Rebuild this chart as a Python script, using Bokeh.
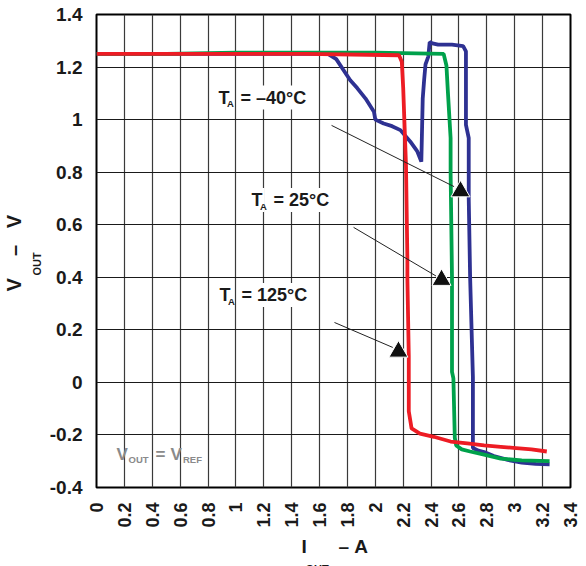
import math
from bokeh.plotting import figure
from bokeh.models import Label, FixedTicker, Title
from bokeh.embed import file_html
from bokeh.resources import INLINE

# ---------------- data ----------------
x_ticks = [0, 0.2, 0.4, 0.6, 0.8, 1.0, 1.2, 1.4, 1.6, 1.8, 2.0, 2.2, 2.4, 2.6, 2.8, 3.0, 3.2, 3.4]
x_tick_labels = ["0", "0.2", "0.4", "0.6", "0.8", "1", "1.2", "1.4", "1.6", "1.8", "2",
                 "2.2", "2.4", "2.6", "2.8", "3", "3.2", "3.4"]
y_ticks = [-0.4, -0.2, 0, 0.2, 0.4, 0.6, 0.8, 1.0, 1.2, 1.4]
y_tick_labels = ["-0.4", "-0.2", "0", "0.2", "0.4", "0.6", "0.8", "1", "1.2", "1.4"]

# T_A = -40 C (blue)
cold_i = [0.0, 0.5, 1.0, 1.66, 1.72, 1.77, 1.82, 1.87, 1.93, 1.99, 2.00, 2.06, 2.12, 2.18, 2.25, 2.30, 2.33,
          2.34, 2.35, 2.36, 2.38, 2.39, 2.41, 2.45, 2.55, 2.63, 2.65, 2.65, 2.67, 2.67, 2.68, 2.70, 2.70,
          2.74, 2.78, 2.85, 2.95, 3.05, 3.15, 3.25]
cold_v = [1.25, 1.25, 1.25, 1.25, 1.23, 1.19, 1.15, 1.12, 1.08, 1.03, 1.00, 0.985, 0.975, 0.96, 0.917, 0.88, 0.84,
          1.08, 1.15, 1.21, 1.24, 1.295, 1.29, 1.285, 1.285, 1.28, 1.26, 0.98, 0.93, 0.70, 0.40, 0.02, -0.25,
          -0.26, -0.265, -0.28, -0.295, -0.305, -0.31, -0.312]

# T_A = 25 C (green)
room_i = [0.0, 0.5, 1.0, 1.5, 2.0, 2.49, 2.51, 2.52, 2.54, 2.54, 2.55, 2.55, 2.56, 2.57, 2.58, 2.62,
          2.68, 2.78, 2.90, 3.05, 3.25]
room_v = [1.25, 1.25, 1.255, 1.255, 1.255, 1.25, 1.206, 1.11, 0.93, 0.80, 0.40, 0.04, 0.015, -0.21, -0.24, -0.255,
          -0.263, -0.275, -0.29, -0.297, -0.30]

# T_A = 125 C (red)
hot_i = [0.0, 0.5, 1.0, 1.5, 2.17, 2.19, 2.20, 2.22, 2.23, 2.23, 2.24, 2.24, 2.26, 2.32, 2.42, 2.54,
         2.66, 2.78, 2.90, 3.01, 3.12, 3.23]
hot_v = [1.25, 1.25, 1.25, 1.25, 1.245, 1.22, 1.12, 0.826, 0.47, 0.395, 0.10, -0.11, -0.175, -0.195, -0.207, -0.225,
         -0.232, -0.24, -0.245, -0.25, -0.255, -0.263]

# annotation arrows
arrow_x0 = [1.686, 1.844, 1.707]
arrow_y0 = [0.978, 0.590, 0.228]
arrow_x1 = [2.565, 2.435, 2.125]
arrow_y1 = [0.745, 0.405, 0.133]
tri_x = [2.611, 2.475, 2.166]
tri_y = [0.727, 0.390, 0.117]

# ---------------- layout ----------------
BL, BR, BT, BB = 92, 12, 14, 68   # borders
FW, FH = 474, 473
FL, FT = 93, 16          # reference frame left / top (page px)
FB = FT + FH


def cx(px):
    return BL + (px - FL)


def cy(py):
    return BT + (py - FT)


FONT = "Liberation Sans"
NB = "\u00a0"

p = figure(frame_width=FW, frame_height=FH, x_range=(0, 3.4), y_range=(-0.4, 1.4),
           output_backend="svg", toolbar_location=None,
           min_border_left=BL, min_border_right=BR, min_border_top=BT, min_border_bottom=BB)

p.background_fill_color = "white"
p.border_fill_color = "white"
p.outline_line_color = "black"
p.outline_line_width = 2
p.outline_line_alpha = 1

p.xaxis.ticker = FixedTicker(ticks=x_ticks)
p.yaxis.ticker = FixedTicker(ticks=y_ticks)
p.xgrid.ticker = FixedTicker(ticks=x_ticks)
p.ygrid.ticker = FixedTicker(ticks=y_ticks)
p.xaxis.major_label_overrides = {t: l for t, l in zip(x_ticks, x_tick_labels)}
p.yaxis.major_label_overrides = {t: l for t, l in zip(y_ticks, y_tick_labels)}

for ax in (p.xaxis, p.yaxis):
    ax.axis_line_color = None
    ax.major_tick_line_color = None
    ax.minor_tick_line_color = None
    ax.major_tick_out = 0
    ax.major_tick_in = 0
    ax.major_label_text_font = FONT
    ax.major_label_text_font_style = "bold"
    ax.major_label_text_color = "#1a1a1a"

p.yaxis.major_label_text_font_size = "19px"
p.yaxis.major_label_standoff = 14
p.xaxis.major_label_text_font_size = "18px"
p.xaxis.major_label_orientation = math.pi / 2
p.xaxis.major_label_standoff = 15

p.xgrid.grid_line_color = "#3a3a3a"
p.ygrid.grid_line_color = "#1a1a1a"
p.xgrid.grid_line_width = 1.2
p.ygrid.grid_line_width = 1.2

# curves
p.line(cold_i, cold_v, line_color="#2E3192", line_width=3.8)
p.line(room_i, room_v, line_color="#00A14B", line_width=3.8)
p.line(hot_i, hot_v, line_color="#ED1C24", line_width=3.8)

# arrows
p.segment(arrow_x0, arrow_y0, arrow_x1, arrow_y1, line_color="#222222", line_width=1)
p.scatter(tri_x, tri_y, marker="triangle", size=19, fill_color="#111111", line_color="white", line_width=1)


def label(px, py, text, size, color="#1a1a1a", bg=None):
    lb = Label(x=cx(px), y=cy(py), x_units="canvas", y_units="canvas", text=text,
               text_font=FONT, text_font_size=size, text_font_style="bold",
               text_color=color, text_align="left", text_baseline="middle")
    if bg:
        lb.background_fill_color = bg
        lb.padding = 2
    p.add_layout(lb)


# temperature labels: (left px, center px, rest text)
for x0, yc, rest in [(217, 99, "= \u201340\u00b0C"), (250, 201.5, "= 25\u00b0C"), (218, 296.5, "= 125\u00b0C")]:
    label(x0, yc, "T", "18px", bg="white")
    label(x0 + 22, yc, rest, "18px", bg="white")
    label(x0 + 10.5, yc + 6, "A", "9.5px")

# V_OUT = V_REF label
label(117, 456, "V", "17px", color="#8a8a8a")
label(129, 461, "OUT", "9.5px", color="#8a8a8a")
label(156, 456, "=", "17px", color="#8a8a8a")
label(171, 456, "V", "17px", color="#8a8a8a")
label(183.5, 461, "REF", "9.5px", color="#8a8a8a")


def title(text, size, side, offset, standoff):
    t = Title(text=text, align="left", offset=offset, standoff=standoff,
              text_font=FONT, text_font_size=size, text_font_style="bold", text_color="#1a1a1a")
    p.add_layout(t, side)


# y-axis title: subscript column nearest the axis, main text further out
title("OUT", "11px", "left", FB - 277, 8)
title("V" + NB * 4 + "\u2013" + NB * 3 + "V", "20px", "left", FB - 293, 0)

# x-axis title: main text row, then subscript row
title("I" + NB * 6 + "\u2013" + NB + "A", "19px", "below", 298 - FL, 7)
title("OUT", "11px", "below", 302 - FL, 0)

open("out.html", "w").write(file_html(p, INLINE))
